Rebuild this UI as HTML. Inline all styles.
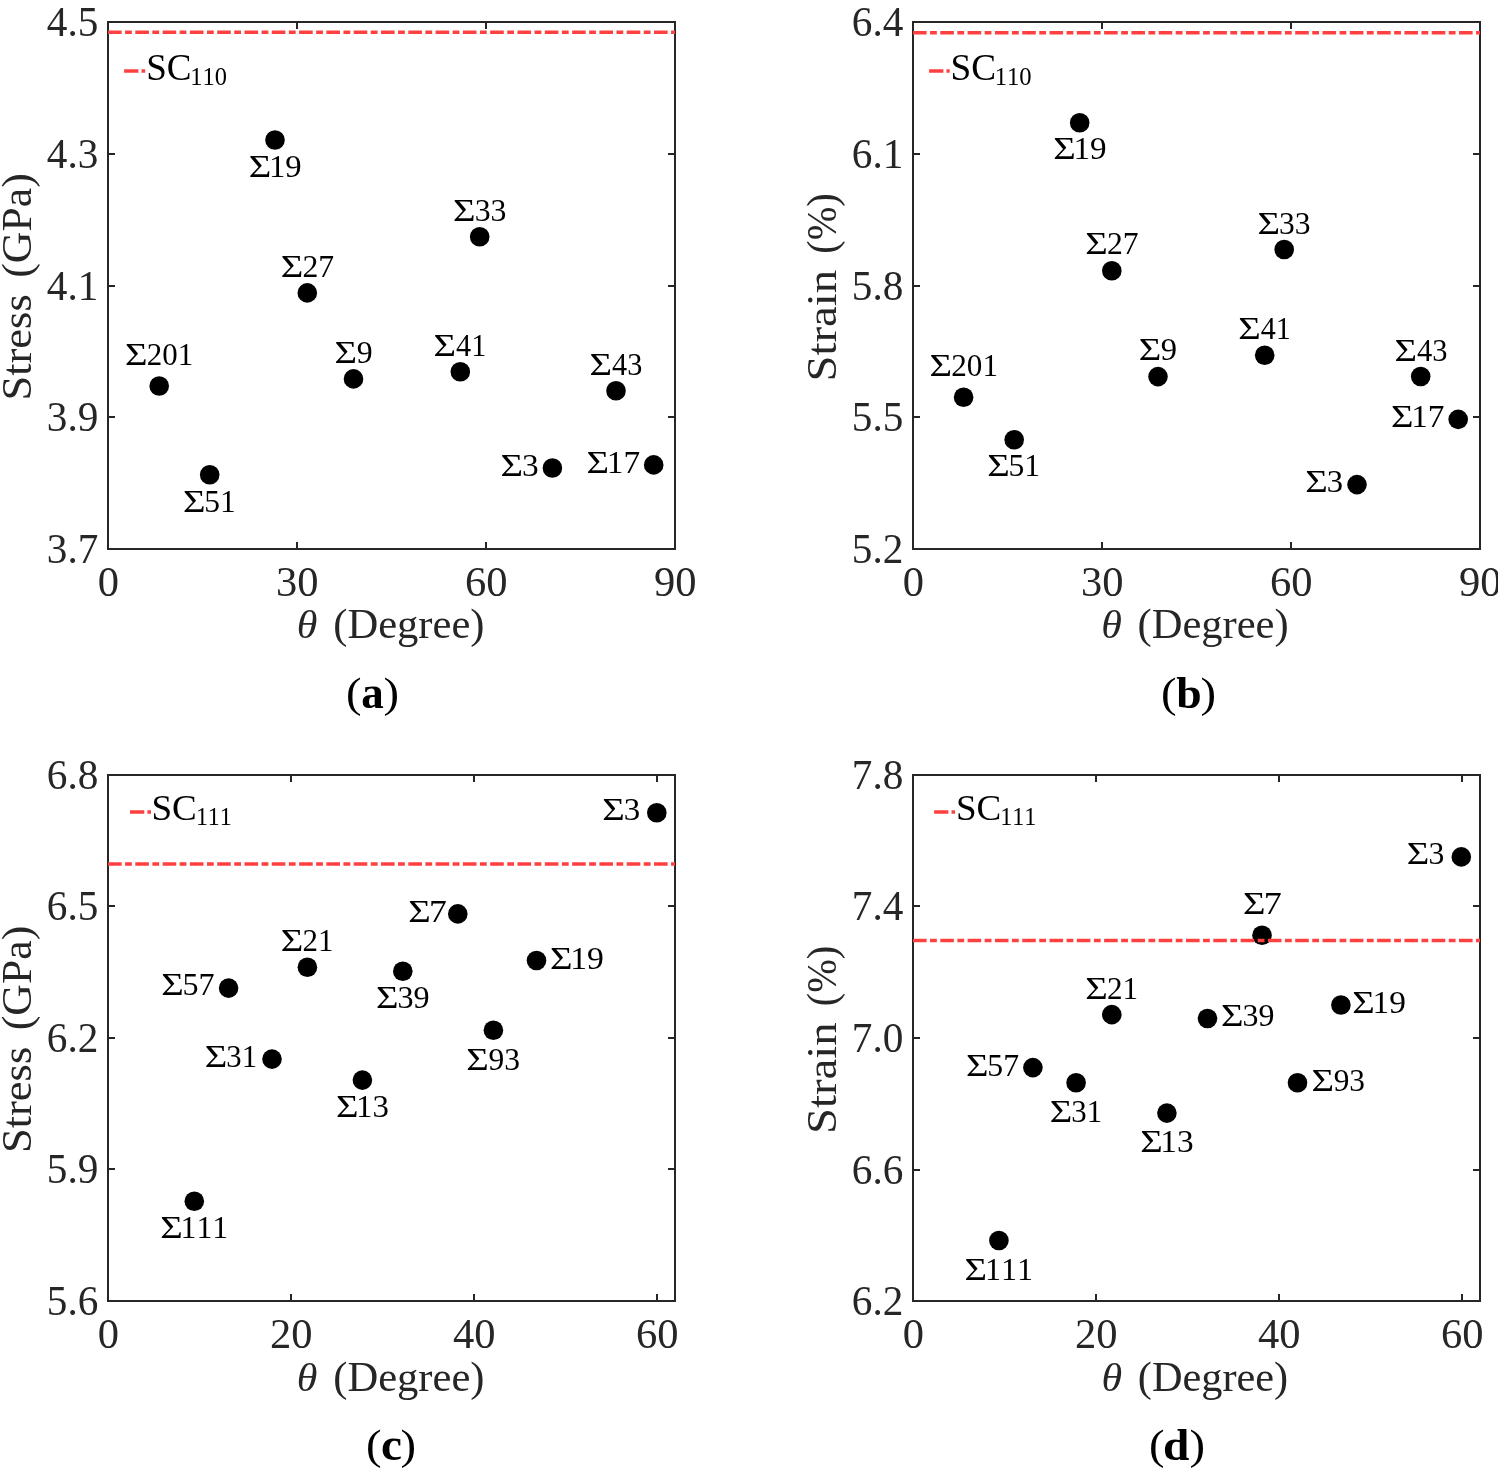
<!DOCTYPE html>
<html><head><meta charset="utf-8"><style>
html,body{margin:0;padding:0;background:#fff;}
svg{display:block;will-change:transform;}
text{font-family:"Liberation Serif",serif;font-kerning:none;}
</style></head><body>
<svg width="1498" height="1470" viewBox="0 0 1498 1470">
<rect width="1498" height="1470" fill="#fff"/>
<circle cx="159.2" cy="386" r="9.8" fill="#000"/>
<circle cx="209.7" cy="474.7" r="9.8" fill="#000"/>
<circle cx="275" cy="140" r="9.8" fill="#000"/>
<circle cx="307.3" cy="292.9" r="9.8" fill="#000"/>
<circle cx="353.5" cy="378.9" r="9.8" fill="#000"/>
<circle cx="460.3" cy="371.8" r="9.8" fill="#000"/>
<circle cx="479.7" cy="236.7" r="9.8" fill="#000"/>
<circle cx="552.4" cy="468" r="9.8" fill="#000"/>
<circle cx="616" cy="390.8" r="9.8" fill="#000"/>
<circle cx="653.7" cy="464.9" r="9.8" fill="#000"/>
<path d="M108 549V542M108 22V29M297 549V542M297 22V29M486 549V542M486 22V29M675 549V542M675 22V29M108 549H115M675 549H668M108 417H115M675 417H668M108 286H115M675 286H668M108 154H115M675 154H668M108 22H115M675 22H668" stroke="#262626" stroke-width="2.0" fill="none"/>
<rect x="108" y="22" width="567" height="527" stroke="#262626" stroke-width="2.0" fill="none"/>
<line x1="108" y1="32.2" x2="675" y2="32.2" stroke="#ff4040" stroke-width="3.5" stroke-dasharray="13.6 3.45 6.8 3.45"/>
<text transform="translate(97.66,595.65) scale(0.9850,1)" font-size="43.2" fill="#262626">0</text>
<text transform="translate(276.02,595.65) scale(0.9850,1)" font-size="43.2" fill="#262626">30</text>
<text transform="translate(465.02,595.65) scale(0.9850,1)" font-size="43.2" fill="#262626">60</text>
<text transform="translate(654.02,595.65) scale(0.9850,1)" font-size="43.2" fill="#262626">90</text>
<text transform="translate(46.83,563.4) scale(0.9550,1)" font-size="43.2" fill="#262626">3.7</text>
<text transform="translate(46.83,431.4) scale(0.9550,1)" font-size="43.2" fill="#262626">3.9</text>
<text transform="translate(46.83,300.35) scale(0.9550,1)" font-size="43.2" fill="#262626">4.1</text>
<text transform="translate(46.83,168.4) scale(0.9550,1)" font-size="43.2" fill="#262626">4.3</text>
<text transform="translate(46.83,36.31) scale(0.9550,1)" font-size="43.2" fill="#262626">4.5</text>
<text transform="translate(124.99,365.42) scale(1.1965,1)" font-size="32.4" fill="#000">Σ</text>
<text transform="translate(146.74,365.42) scale(0.9793,1)" font-size="31.6" fill="#000">201</text>
<text transform="translate(182.99,511.52) scale(1.1965,1)" font-size="32.4" fill="#000">Σ</text>
<text transform="translate(204.27,511.52) scale(0.9976,1)" font-size="31.6" fill="#000">51</text>
<text transform="translate(248.69,177.22) scale(1.1965,1)" font-size="32.4" fill="#000">Σ</text>
<text transform="translate(268.92,177.22) scale(1.0354,1)" font-size="31.6" fill="#000">19</text>
<text transform="translate(280.79,277.42) scale(1.1965,1)" font-size="32.4" fill="#000">Σ</text>
<text transform="translate(302.51,277.42) scale(1.0034,1)" font-size="31.6" fill="#000">27</text>
<text transform="translate(334.59,362.92) scale(1.1965,1)" font-size="32.4" fill="#000">Σ</text>
<text transform="translate(356.67,362.92) scale(1.0085,1)" font-size="31.6" fill="#000">9</text>
<text transform="translate(433.59,356.02) scale(1.1965,1)" font-size="32.4" fill="#000">Σ</text>
<text transform="translate(456.11,356.02) scale(0.9558,1)" font-size="31.6" fill="#000">41</text>
<text transform="translate(453.09,220.82) scale(1.1965,1)" font-size="32.4" fill="#000">Σ</text>
<text transform="translate(474.68,220.82) scale(1.0051,1)" font-size="31.6" fill="#000">33</text>
<text transform="translate(500.49,476.02) scale(1.1965,1)" font-size="32.4" fill="#000">Σ</text>
<text transform="translate(522,476.02) scale(1.0572,1)" font-size="31.6" fill="#000">3</text>
<text transform="translate(589.49,375.42) scale(1.1965,1)" font-size="32.4" fill="#000">Σ</text>
<text transform="translate(612.01,375.42) scale(0.9580,1)" font-size="31.6" fill="#000">43</text>
<text transform="translate(586.59,472.72) scale(1.1965,1)" font-size="32.4" fill="#000">Σ</text>
<text transform="translate(606.77,472.72) scale(1.0533,1)" font-size="31.6" fill="#000">17</text>
<line x1="124.1" y1="71" x2="145.2" y2="71" stroke="#ff4040" stroke-width="3.5" stroke-dasharray="14.3 3.1 3.8 100"/>
<text transform="translate(146.22,79.83) scale(0.9879,1)" font-size="37.51" fill="#000">SC</text>
<text transform="translate(190.35,84.66) scale(0.9764,1)" font-size="25.04" fill="#000">110</text>
<text transform="translate(296.75,638.2) scale(1.0378,1)" font-size="40.48" font-style="italic" fill="#262626">θ</text>
<text transform="translate(333.23,638.3) scale(1.0023,1)" font-size="42.5" fill="#262626">(Degree)</text>
<text transform="translate(30.6,400.58) rotate(-90) scale(1.0467,1)" font-size="42.5" fill="#262626">Stress</text>
<text transform="translate(30.6,277.83) rotate(-90) scale(1.0311,1)" font-size="42.5" fill="#262626">(GPa)</text>
<text transform="translate(345.95,706.69) scale(1.0919,1)" font-size="42.79" fill="#000">(</text>
<text transform="translate(361.15,708.44) scale(0.9552,1)" font-size="47.18" font-weight="bold" fill="#000">a</text>
<text transform="translate(383.49,706.69) scale(1.0919,1)" font-size="42.79" fill="#000">)</text>
<circle cx="963.6" cy="397.2" r="9.8" fill="#000"/>
<circle cx="1014.2" cy="439.7" r="9.8" fill="#000"/>
<circle cx="1079.7" cy="122.7" r="9.8" fill="#000"/>
<circle cx="1111.8" cy="270.7" r="9.8" fill="#000"/>
<circle cx="1158" cy="376.6" r="9.8" fill="#000"/>
<circle cx="1264.7" cy="355.3" r="9.8" fill="#000"/>
<circle cx="1284.2" cy="249.5" r="9.8" fill="#000"/>
<circle cx="1357" cy="484.6" r="9.8" fill="#000"/>
<circle cx="1420.7" cy="376.5" r="9.8" fill="#000"/>
<circle cx="1458.2" cy="419.4" r="9.8" fill="#000"/>
<path d="M913 549V542M913 22V29M1102 549V542M1102 22V29M1291 549V542M1291 22V29M1480 549V542M1480 22V29M913 549H920M1480 549H1473M913 417H920M1480 417H1473M913 286H920M1480 286H1473M913 154H920M1480 154H1473M913 22H920M1480 22H1473" stroke="#262626" stroke-width="2.0" fill="none"/>
<rect x="913" y="22" width="567" height="527" stroke="#262626" stroke-width="2.0" fill="none"/>
<line x1="913" y1="32.8" x2="1480" y2="32.8" stroke="#ff4040" stroke-width="3.5" stroke-dasharray="13.6 3.45 6.8 3.45"/>
<text transform="translate(902.66,595.65) scale(0.9850,1)" font-size="43.2" fill="#262626">0</text>
<text transform="translate(1081.02,595.65) scale(0.9850,1)" font-size="43.2" fill="#262626">30</text>
<text transform="translate(1270.02,595.65) scale(0.9850,1)" font-size="43.2" fill="#262626">60</text>
<text transform="translate(1459.02,595.65) scale(0.9850,1)" font-size="43.2" fill="#262626">90</text>
<text transform="translate(851.83,563.4) scale(0.9550,1)" font-size="43.2" fill="#262626">5.2</text>
<text transform="translate(851.83,431.24) scale(0.9550,1)" font-size="43.2" fill="#262626">5.5</text>
<text transform="translate(851.83,300.46) scale(0.9550,1)" font-size="43.2" fill="#262626">5.8</text>
<text transform="translate(851.83,168.4) scale(0.9550,1)" font-size="43.2" fill="#262626">6.1</text>
<text transform="translate(851.83,36.4) scale(0.9550,1)" font-size="43.2" fill="#262626">6.4</text>
<text transform="translate(929.49,376.22) scale(1.1965,1)" font-size="32.4" fill="#000">Σ</text>
<text transform="translate(951.23,376.22) scale(0.9861,1)" font-size="31.6" fill="#000">201</text>
<text transform="translate(987.19,476.42) scale(1.1965,1)" font-size="32.4" fill="#000">Σ</text>
<text transform="translate(1008.46,476.42) scale(1.0012,1)" font-size="31.6" fill="#000">51</text>
<text transform="translate(1053.29,159.32) scale(1.1965,1)" font-size="32.4" fill="#000">Σ</text>
<text transform="translate(1073.48,159.32) scale(1.0499,1)" font-size="31.6" fill="#000">19</text>
<text transform="translate(1085.29,254.42) scale(1.1965,1)" font-size="32.4" fill="#000">Σ</text>
<text transform="translate(1107.01,254.42) scale(1.0000,1)" font-size="31.6" fill="#000">27</text>
<text transform="translate(1138.79,360.22) scale(1.1965,1)" font-size="32.4" fill="#000">Σ</text>
<text transform="translate(1160.85,360.22) scale(1.0307,1)" font-size="31.6" fill="#000">9</text>
<text transform="translate(1238.19,339.32) scale(1.1965,1)" font-size="32.4" fill="#000">Σ</text>
<text transform="translate(1260.71,339.32) scale(0.9524,1)" font-size="31.6" fill="#000">41</text>
<text transform="translate(1257.49,234.02) scale(1.1965,1)" font-size="32.4" fill="#000">Σ</text>
<text transform="translate(1279.09,234.02) scale(0.9981,1)" font-size="31.6" fill="#000">33</text>
<text transform="translate(1305.19,492.02) scale(1.1965,1)" font-size="32.4" fill="#000">Σ</text>
<text transform="translate(1326.74,492.02) scale(1.0342,1)" font-size="31.6" fill="#000">3</text>
<text transform="translate(1394.39,360.62) scale(1.1965,1)" font-size="32.4" fill="#000">Σ</text>
<text transform="translate(1416.9,360.62) scale(0.9648,1)" font-size="31.6" fill="#000">43</text>
<text transform="translate(1390.99,427.22) scale(1.1965,1)" font-size="32.4" fill="#000">Σ</text>
<text transform="translate(1411.17,427.22) scale(1.0533,1)" font-size="31.6" fill="#000">17</text>
<line x1="929.1" y1="71" x2="949.7" y2="71" stroke="#ff4040" stroke-width="3.5" stroke-dasharray="14.3 3.1 3.8 100"/>
<text transform="translate(950.51,79.83) scale(0.9928,1)" font-size="37.51" fill="#000">SC</text>
<text transform="translate(994.63,84.66) scale(0.9851,1)" font-size="25.04" fill="#000">110</text>
<text transform="translate(1101.15,638.1) scale(1.0378,1)" font-size="40.48" font-style="italic" fill="#262626">θ</text>
<text transform="translate(1137.53,638.2) scale(1.0010,1)" font-size="42.5" fill="#262626">(Degree)</text>
<text transform="translate(835.6,381.58) rotate(-90) scale(1.0996,1)" font-size="42.5" fill="#262626">Strain</text>
<text transform="translate(835.6,253.72) rotate(-90) scale(0.9488,1)" font-size="42.5" fill="#262626">(%)</text>
<text transform="translate(1160.95,706.67) scale(1.0891,1)" font-size="42.9" fill="#000">(</text>
<text transform="translate(1176.32,708.36) scale(1.0087,1)" font-size="45.34" font-weight="bold" fill="#000">b</text>
<text transform="translate(1200.49,706.67) scale(1.0891,1)" font-size="42.9" fill="#000">)</text>
<circle cx="194.3" cy="1201.3" r="9.8" fill="#000"/>
<circle cx="228.6" cy="988.1" r="9.8" fill="#000"/>
<circle cx="272" cy="1059.1" r="9.8" fill="#000"/>
<circle cx="307.4" cy="967.3" r="9.8" fill="#000"/>
<circle cx="362.4" cy="1080.1" r="9.8" fill="#000"/>
<circle cx="402.8" cy="971.2" r="9.8" fill="#000"/>
<circle cx="457.8" cy="913.9" r="9.8" fill="#000"/>
<circle cx="493.4" cy="1030.2" r="9.8" fill="#000"/>
<circle cx="536.5" cy="960.5" r="9.8" fill="#000"/>
<circle cx="656.8" cy="812.8" r="9.8" fill="#000"/>
<path d="M108 1301V1294M108 775V782M291 1301V1294M291 775V782M474 1301V1294M474 775V782M657 1301V1294M657 775V782M108 1301H115M675 1301H668M108 1169H115M675 1169H668M108 1038H115M675 1038H668M108 906H115M675 906H668M108 775H115M675 775H668" stroke="#262626" stroke-width="2.0" fill="none"/>
<rect x="108" y="775" width="567" height="526" stroke="#262626" stroke-width="2.0" fill="none"/>
<line x1="108" y1="864" x2="675" y2="864" stroke="#ff4040" stroke-width="3.5" stroke-dasharray="13.6 3.45 6.8 3.45"/>
<text transform="translate(97.66,1347.65) scale(0.9850,1)" font-size="43.2" fill="#262626">0</text>
<text transform="translate(270.02,1347.65) scale(0.9850,1)" font-size="43.2" fill="#262626">20</text>
<text transform="translate(453.02,1347.65) scale(0.9850,1)" font-size="43.2" fill="#262626">40</text>
<text transform="translate(636.02,1347.65) scale(0.9850,1)" font-size="43.2" fill="#262626">60</text>
<text transform="translate(46.83,1315.4) scale(0.9550,1)" font-size="43.2" fill="#262626">5.6</text>
<text transform="translate(46.83,1183.4) scale(0.9550,1)" font-size="43.2" fill="#262626">5.9</text>
<text transform="translate(46.83,1052.4) scale(0.9550,1)" font-size="43.2" fill="#262626">6.2</text>
<text transform="translate(46.83,920.4) scale(0.9550,1)" font-size="43.2" fill="#262626">6.5</text>
<text transform="translate(46.83,789.46) scale(0.9550,1)" font-size="43.2" fill="#262626">6.8</text>
<text transform="translate(160.19,1238.32) scale(1.1965,1)" font-size="32.4" fill="#000">Σ</text>
<text transform="translate(180.5,1238.32) scale(1.0064,1)" font-size="31.6" fill="#000">111</text>
<text transform="translate(161.19,995.12) scale(1.1965,1)" font-size="32.4" fill="#000">Σ</text>
<text transform="translate(182.44,995.12) scale(1.0155,1)" font-size="31.6" fill="#000">57</text>
<text transform="translate(204.69,1066.82) scale(1.1965,1)" font-size="32.4" fill="#000">Σ</text>
<text transform="translate(226.33,1066.82) scale(0.9720,1)" font-size="31.6" fill="#000">31</text>
<text transform="translate(280.79,951.22) scale(1.1965,1)" font-size="32.4" fill="#000">Σ</text>
<text transform="translate(302.54,951.22) scale(0.9783,1)" font-size="31.6" fill="#000">21</text>
<text transform="translate(335.89,1117.02) scale(1.1965,1)" font-size="32.4" fill="#000">Σ</text>
<text transform="translate(356.11,1117.02) scale(1.0403,1)" font-size="31.6" fill="#000">13</text>
<text transform="translate(375.89,1008.12) scale(1.1965,1)" font-size="32.4" fill="#000">Σ</text>
<text transform="translate(397.46,1008.12) scale(1.0177,1)" font-size="31.6" fill="#000">39</text>
<text transform="translate(408.29,921.52) scale(1.1965,1)" font-size="32.4" fill="#000">Σ</text>
<text transform="translate(429.06,921.52) scale(1.1244,1)" font-size="31.6" fill="#000">7</text>
<text transform="translate(466.29,1069.62) scale(1.1965,1)" font-size="32.4" fill="#000">Σ</text>
<text transform="translate(488.38,1069.62) scale(0.9984,1)" font-size="31.6" fill="#000">93</text>
<text transform="translate(550.09,968.62) scale(1.1965,1)" font-size="32.4" fill="#000">Σ</text>
<text transform="translate(570.23,968.62) scale(1.0681,1)" font-size="31.6" fill="#000">19</text>
<text transform="translate(602.29,820.32) scale(1.1965,1)" font-size="32.4" fill="#000">Σ</text>
<text transform="translate(623.82,820.32) scale(1.0419,1)" font-size="31.6" fill="#000">3</text>
<line x1="130" y1="812" x2="151" y2="812" stroke="#ff4040" stroke-width="3.5" stroke-dasharray="14.3 3.1 3.8 100"/>
<text transform="translate(151.52,820.24) scale(1.0079,1)" font-size="36.76" fill="#000">SC</text>
<text transform="translate(195.89,825.4) scale(0.9826,1)" font-size="24.39" fill="#000">111</text>
<text transform="translate(296.75,1391) scale(1.0378,1)" font-size="40.48" font-style="italic" fill="#262626">θ</text>
<text transform="translate(333.23,1391.1) scale(1.0023,1)" font-size="42.5" fill="#262626">(Degree)</text>
<text transform="translate(30.6,1153.08) rotate(-90) scale(1.0467,1)" font-size="42.5" fill="#262626">Stress</text>
<text transform="translate(30.6,1030.33) rotate(-90) scale(1.0311,1)" font-size="42.5" fill="#262626">(GPa)</text>
<text transform="translate(365.95,1458.67) scale(1.0891,1)" font-size="42.9" fill="#000">(</text>
<text transform="translate(380.98,1460.36) scale(0.9968,1)" font-size="47.45" font-weight="bold" fill="#000">c</text>
<text transform="translate(400.49,1458.67) scale(1.0891,1)" font-size="42.9" fill="#000">)</text>
<circle cx="998.9" cy="1240.5" r="9.8" fill="#000"/>
<circle cx="1032.9" cy="1067.6" r="9.8" fill="#000"/>
<circle cx="1076.1" cy="1082.7" r="9.8" fill="#000"/>
<circle cx="1111.8" cy="1014.6" r="9.8" fill="#000"/>
<circle cx="1166.9" cy="1113.1" r="9.8" fill="#000"/>
<circle cx="1207.5" cy="1018.5" r="9.8" fill="#000"/>
<circle cx="1262" cy="935.2" r="9.8" fill="#000"/>
<circle cx="1297.5" cy="1082.7" r="9.8" fill="#000"/>
<circle cx="1340.9" cy="1005" r="9.8" fill="#000"/>
<circle cx="1461.3" cy="856.9" r="9.8" fill="#000"/>
<path d="M913 1301V1294M913 775V782M1096 1301V1294M1096 775V782M1279 1301V1294M1279 775V782M1462 1301V1294M1462 775V782M913 1301H920M1480 1301H1473M913 1170H920M1480 1170H1473M913 1038H920M1480 1038H1473M913 906H920M1480 906H1473M913 775H920M1480 775H1473" stroke="#262626" stroke-width="2.0" fill="none"/>
<rect x="913" y="775" width="567" height="526" stroke="#262626" stroke-width="2.0" fill="none"/>
<line x1="913" y1="940.6" x2="1480" y2="940.6" stroke="#ff4040" stroke-width="3.5" stroke-dasharray="13.6 3.45 6.8 3.45"/>
<text transform="translate(902.66,1347.65) scale(0.9850,1)" font-size="43.2" fill="#262626">0</text>
<text transform="translate(1075.02,1347.65) scale(0.9850,1)" font-size="43.2" fill="#262626">20</text>
<text transform="translate(1258.02,1347.65) scale(0.9850,1)" font-size="43.2" fill="#262626">40</text>
<text transform="translate(1441.02,1347.65) scale(0.9850,1)" font-size="43.2" fill="#262626">60</text>
<text transform="translate(851.83,1315.4) scale(0.9550,1)" font-size="43.2" fill="#262626">6.2</text>
<text transform="translate(851.83,1184.4) scale(0.9550,1)" font-size="43.2" fill="#262626">6.6</text>
<text transform="translate(851.83,1052.46) scale(0.9550,1)" font-size="43.2" fill="#262626">7.0</text>
<text transform="translate(851.83,920.31) scale(0.9550,1)" font-size="43.2" fill="#262626">7.4</text>
<text transform="translate(851.83,789.46) scale(0.9550,1)" font-size="43.2" fill="#262626">7.8</text>
<text transform="translate(964.59,1279.82) scale(1.1965,1)" font-size="32.4" fill="#000">Σ</text>
<text transform="translate(984.89,1279.82) scale(1.0135,1)" font-size="31.6" fill="#000">111</text>
<text transform="translate(965.99,1075.72) scale(1.1965,1)" font-size="32.4" fill="#000">Σ</text>
<text transform="translate(987.25,1075.72) scale(1.0051,1)" font-size="31.6" fill="#000">57</text>
<text transform="translate(1049.69,1122.42) scale(1.1965,1)" font-size="32.4" fill="#000">Σ</text>
<text transform="translate(1071.32,1122.42) scale(0.9755,1)" font-size="31.6" fill="#000">31</text>
<text transform="translate(1085.29,998.82) scale(1.1965,1)" font-size="32.4" fill="#000">Σ</text>
<text transform="translate(1107.03,998.82) scale(0.9854,1)" font-size="31.6" fill="#000">21</text>
<text transform="translate(1140.19,1152.42) scale(1.1965,1)" font-size="32.4" fill="#000">Σ</text>
<text transform="translate(1160.37,1152.42) scale(1.0548,1)" font-size="31.6" fill="#000">13</text>
<text transform="translate(1220.89,1026.12) scale(1.1965,1)" font-size="32.4" fill="#000">Σ</text>
<text transform="translate(1242.47,1026.12) scale(1.0107,1)" font-size="31.6" fill="#000">39</text>
<text transform="translate(1243.09,914.02) scale(1.1965,1)" font-size="32.4" fill="#000">Σ</text>
<text transform="translate(1263.83,914.02) scale(1.1400,1)" font-size="31.6" fill="#000">7</text>
<text transform="translate(1311.59,1090.92) scale(1.1965,1)" font-size="32.4" fill="#000">Σ</text>
<text transform="translate(1333.69,1090.92) scale(0.9916,1)" font-size="31.6" fill="#000">93</text>
<text transform="translate(1352.29,1012.92) scale(1.1965,1)" font-size="32.4" fill="#000">Σ</text>
<text transform="translate(1372.46,1012.92) scale(1.0572,1)" font-size="31.6" fill="#000">19</text>
<text transform="translate(1406.79,864.32) scale(1.1965,1)" font-size="32.4" fill="#000">Σ</text>
<text transform="translate(1428.38,864.32) scale(1.0036,1)" font-size="31.6" fill="#000">3</text>
<line x1="934.1" y1="812" x2="955" y2="812" stroke="#ff4040" stroke-width="3.5" stroke-dasharray="14.3 3.1 3.8 100"/>
<text transform="translate(955.92,820.24) scale(1.0079,1)" font-size="36.76" fill="#000">SC</text>
<text transform="translate(1000.19,825.4) scale(0.9856,1)" font-size="24.39" fill="#000">111</text>
<text transform="translate(1101.45,1390.7) scale(1.0378,1)" font-size="40.48" font-style="italic" fill="#262626">θ</text>
<text transform="translate(1137.84,1390.8) scale(0.9955,1)" font-size="42.5" fill="#262626">(Degree)</text>
<text transform="translate(835.6,1134.08) rotate(-90) scale(1.0996,1)" font-size="42.5" fill="#262626">Strain</text>
<text transform="translate(835.6,1006.22) rotate(-90) scale(0.9488,1)" font-size="42.5" fill="#262626">(%)</text>
<text transform="translate(1149.05,1458.67) scale(1.0891,1)" font-size="42.9" fill="#000">(</text>
<text transform="translate(1163.08,1460.36) scale(1.0451,1)" font-size="45.34" font-weight="bold" fill="#000">d</text>
<text transform="translate(1189.39,1458.67) scale(1.0891,1)" font-size="42.9" fill="#000">)</text>
</svg></body></html>
